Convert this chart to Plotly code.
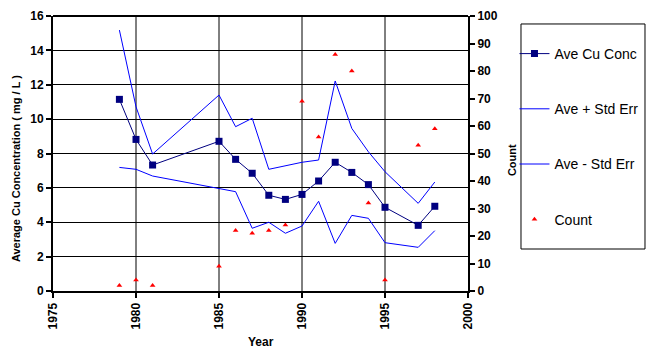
import plotly.graph_objects as go

years = [1979, 1980, 1981, 1985, 1986, 1987, 1988, 1989, 1990, 1991, 1992, 1993, 1994, 1995, 1997, 1998]
ave_cu = [11.15, 8.82, 7.33, 8.71, 7.66, 6.85, 5.57, 5.33, 5.62, 6.40, 7.49, 6.90, 6.19, 4.87, 3.82, 4.93]
ave_plus = [15.18, 10.72, 7.97, 11.40, 9.56, 10.05, 7.08, 7.27, 7.49, 7.62, 12.22, 9.46, 8.10, 6.94, 5.10, 6.34]
ave_minus = [7.19, 7.08, 6.69, 5.97, 5.78, 3.65, 4.00, 3.36, 3.78, 5.22, 2.77, 4.40, 4.23, 2.81, 2.54, 3.51]
count = [2, 4, 2, 9, 22, 21, 22, 24, 69, 56, 86, 80, 32, 4, 53, 59]

FONT = "Liberation Sans, Arial, sans-serif"

fig = go.Figure()
fig.add_trace(go.Scatter(x=years, y=ave_cu, name="Ave Cu Conc", mode="lines+markers",
                         line=dict(color="#000080", width=1),
                         marker=dict(symbol="square", size=7, color="#000080"),
                         legendgroup="a"))
fig.add_trace(go.Scatter(x=years, y=ave_plus, name="Ave + Std Err", mode="lines",
                         line=dict(color="#0000FF", width=1), legendgroup="b"))
fig.add_trace(go.Scatter(x=years, y=ave_minus, name="Ave - Std Err", mode="lines",
                         line=dict(color="#0000FF", width=1), legendgroup="c"))
fig.add_trace(go.Scatter(x=years, y=count, name="Count", mode="markers", yaxis="y2",
                         marker=dict(symbol="triangle-up", size=5, color="#FF0000"),
                         legendgroup="d"))

fig.update_layout(
    width=660, height=360,
    margin=dict(l=45, r=200, t=8, b=77, autoexpand=False),
    paper_bgcolor="white", plot_bgcolor="white",
    font=dict(family=FONT, size=11, color="black"),
    showlegend=True,
    legend=dict(x=1.112, y=0.92, xanchor="left", yanchor="top",
                bgcolor="rgba(0,0,0,0)", borderwidth=0,
                font=dict(family=FONT, size=14, color="black"),
                tracegroupgap=34, itemwidth=30),
    xaxis=dict(range=[1975, 2000], tickvals=[1975, 1980, 1985, 1990, 1995, 2000],
               tickangle=-90, showgrid=False, zeroline=False,
               showline=True, linecolor="black", linewidth=2, mirror=False,
               ticks="outside", ticklen=5, tickwidth=2, tickcolor="black",
               tickfont=dict(family=FONT, size=12, color="black", weight="bold")),
    yaxis=dict(range=[0, 16], dtick=2, showgrid=True, gridcolor="black", gridwidth=1,
               zeroline=False, showline=True, linecolor="black", linewidth=2,
               ticks="outside", ticklen=5, tickwidth=2, tickcolor="black",
               tickfont=dict(family=FONT, size=12, color="black", weight="bold")),
    yaxis2=dict(range=[0, 100], dtick=10, overlaying="y", side="right",
                showgrid=False, zeroline=False, showline=True, linecolor="black", linewidth=2,
                ticks="outside", ticklen=5, tickwidth=2, tickcolor="black",
                tickfont=dict(family=FONT, size=12, color="black", weight="bold")),
)

# vertical gridlines at 1980..1995 and top border
for yr in [1980, 1985, 1990, 1995]:
    fig.add_shape(type="line", xref="x", yref="paper", x0=yr, x1=yr, y0=0, y1=1,
                  line=dict(color="black", width=1), layer="below")
fig.add_shape(type="line", xref="paper", yref="paper", x0=0, x1=1, y0=1, y1=1,
              line=dict(color="black", width=2))
# legend box
fig.add_shape(type="rect", xref="paper", yref="paper", x0=1.1277, x1=1.4265, y0=0.1527, y1=0.971,
              line=dict(color="black", width=1))

fig.add_annotation(text="Average Cu Concentration ( mg / L )", xref="paper", yref="paper",
                   x=-0.0892, y=0.447, textangle=-90, showarrow=False,
                   xanchor="center", yanchor="middle",
                   font=dict(family=FONT, size=11, color="black", weight="bold"))
fig.add_annotation(text="Count", xref="paper", yref="paper",
                   x=1.106, y=0.476, textangle=-90, showarrow=False,
                   xanchor="center", yanchor="middle",
                   font=dict(family=FONT, size=11, color="black", weight="bold"))
fig.add_annotation(text="Year", xref="paper", yref="paper",
                   x=0.5, y=-0.185, showarrow=False,
                   xanchor="center", yanchor="middle",
                   font=dict(family=FONT, size=12, color="black", weight="bold"))

fig.write_html("out.html")
